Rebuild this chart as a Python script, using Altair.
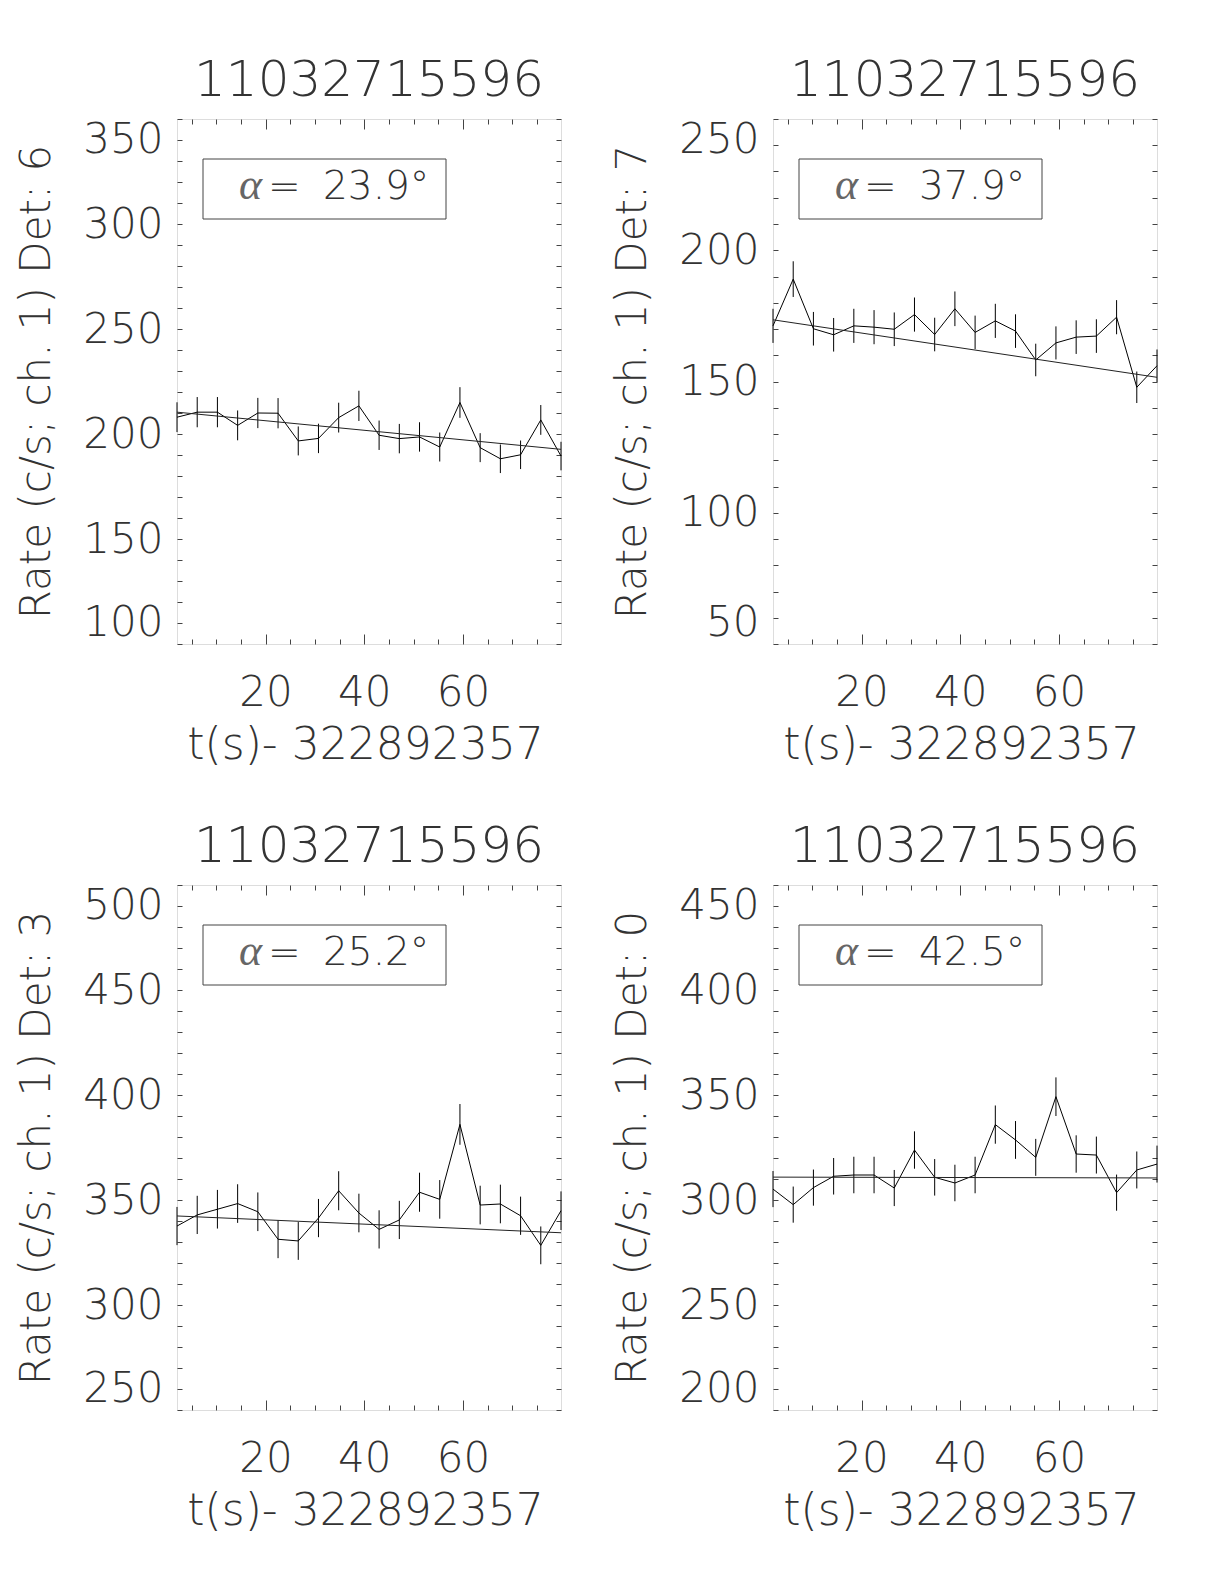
import altair as alt
import pandas as pd

# ---- data ----
t_start = 2.048
bin_s = 4.096
n_bins = 20
times = [round(t_start + bin_s * i, 3) for i in range(n_bins)]

titles = ["11032715596", "11032715596", "11032715596", "11032715596"]
dets = ["6", "7", "3", "0"]
alphas = ["23.9", "37.9", "25.2", "42.5"]
ydomains = [[100, 350], [50, 250], [250, 500], [200, 450]]

rate_det6 = [208.0, 210.4, 210.4, 204.1, 210.0, 209.9, 196.7, 197.9, 207.8, 213.4,
             199.4, 197.8, 198.6, 193.8, 215.0, 193.5, 188.2, 190.1, 206.7, 189.5]
err_det6 = [7.1, 7.2, 7.2, 7.1, 7.2, 7.2, 6.9, 7.0, 7.1, 7.2,
            7.0, 7.0, 7.0, 6.9, 7.3, 6.9, 6.8, 6.8, 7.1, 6.8]
fit_det6 = [210.4, 192.7]

rate_det7 = [171.2, 189.0, 170.1, 167.8, 171.2, 170.7, 169.9, 175.5, 167.9, 177.7,
             168.7, 173.1, 169.2, 158.2, 164.7, 166.9, 167.3, 174.5, 147.8, 156.0]
err_det7 = [6.5, 6.8, 6.4, 6.4, 6.5, 6.5, 6.4, 6.5, 6.4, 6.6,
            6.4, 6.5, 6.4, 6.2, 6.3, 6.4, 6.4, 6.5, 6.0, 6.2]
fit_det7 = [173.5, 151.6]

rate_det3 = [337.6, 342.9, 345.6, 348.3, 344.4, 331.3, 330.5, 341.4, 354.4, 343.8,
             336.0, 340.5, 353.7, 350.3, 386.0, 347.6, 348.1, 342.5, 328.4, 344.9]
err_det3 = [9.1, 9.1, 9.2, 9.2, 9.2, 9.0, 9.0, 9.1, 9.3, 9.2,
            9.1, 9.1, 9.3, 9.2, 9.7, 9.2, 9.2, 9.1, 9.0, 9.2]
fit_det3 = [342.4, 334.4]

rate_det0 = [305.2, 297.8, 305.9, 311.3, 311.9, 311.9, 305.7, 323.8, 310.8, 308.1,
             311.9, 335.9, 328.6, 320.3, 349.2, 321.9, 321.4, 303.5, 314.3, 317.1]
err_det0 = [8.6, 8.6, 8.6, 8.7, 8.7, 8.7, 8.6, 8.9, 8.7, 8.7,
            8.7, 9.1, 9.0, 8.8, 9.2, 8.9, 8.8, 8.6, 8.8, 8.8]
fit_det0 = [310.9, 310.5]

rates = [rate_det6, rate_det7, rate_det3, rate_det0]
errs = [err_det6, err_det7, err_det3, err_det0]
fits = [fit_det6, fit_det7, fit_det3, fit_det0]

x_label_vals = [20, 40, 60]
x_minor_vals = [5, 10, 15, 20, 25, 30, 35, 40, 45, 50, 55, 60, 65, 70, 75]
x_title = "t(s)- 322892357"

W, H = 384, 525
FONT = "DejaVu Sans"
TXT = "#333333"


def panel(k):
    lo_d, hi_d = ydomains[k]
    df = pd.DataFrame({
        "t": times,
        "rate": rates[k],
        "lo": [r - e for r, e in zip(rates[k], errs[k])],
        "hi": [r + e for r, e in zip(rates[k], errs[k])],
    })
    fit_df = pd.DataFrame({"t": [times[0], times[-1]], "rate": fits[k]})
    y_major = list(range(lo_d, hi_d + 1, 50))
    y_minor = list(range(lo_d, hi_d + 1, 10))
    xs = alt.Scale(domain=[times[0], times[-1]], nice=False, zero=False)
    ys = alt.Scale(domain=[lo_d, hi_d], nice=False, zero=False)

    # labelled axes (bottom / left), no ticks
    line = alt.Chart(df).mark_line(color="black", strokeWidth=1).encode(
        x=alt.X("t:Q", scale=xs, axis=alt.Axis(
            orient="bottom", values=x_label_vals, ticks=False, tickSize=0, domain=False,
            grid=False, labelFont=FONT, labelFontSize=42, labelColor=TXT,
            labelFontWeight=200, labelPadding=28,
            title=x_title, titleFont=FONT, titleFontSize=44, titleFontWeight=200,
            titleColor=TXT, titleX=188, titleY=101, titleBaseline="middle",
            titleAlign="center")),
        y=alt.Y("rate:Q", scale=ys, axis=alt.Axis(
            orient="left", values=y_major, ticks=False, tickSize=0, domain=False,
            grid=False, labelFont=FONT, labelFontSize=42, labelColor=TXT,
            labelFontWeight=200, labelPadding=14, labelFlush=True,
            title=f"Rate (c/s; ch. 1) Det: {dets[k]}", titleFont=FONT,
            titleFontSize=42, titleFontWeight=200, titleColor=TXT,
            titleX=-141, titleY=H / 2, titleAngle=270, titleBaseline="middle",
            titleAlign="center")),
    )

    # inward ticks on bottom edge and left edge
    errbar = alt.Chart(df).mark_rule(color="black", strokeWidth=1).encode(
        x=alt.X("t:Q", scale=xs, axis=alt.Axis(
            orient="top", offset=-H, values=x_minor_vals, labels=False, domain=False,
            grid=False, tickColor="#444444", tickWidth=1,
            tickSize={"condition": {"test": "datum.value % 20 === 0", "value": 10}, "value": 5},
            title=None)),
        y=alt.Y("lo:Q", scale=ys, axis=alt.Axis(
            orient="right", offset=-W, values=y_minor, labels=False, domain=False,
            grid=False, tickColor="#444444", tickWidth=1, tickSize=5, title=None)),
        y2="hi:Q",
    )

    # inward ticks on top edge and right edge
    fit = alt.Chart(fit_df).mark_line(color="#222222", strokeWidth=1).encode(
        x=alt.X("t:Q", scale=xs, axis=alt.Axis(
            orient="bottom", offset=-H, values=x_minor_vals, labels=False, domain=False,
            grid=False, tickColor="#444444", tickWidth=1,
            tickSize={"condition": {"test": "datum.value % 20 === 0", "value": 10}, "value": 5},
            title=None)),
        y=alt.Y("rate:Q", scale=ys, axis=alt.Axis(
            orient="left", offset=-W, values=y_minor, labels=False, domain=False,
            grid=False, tickColor="#444444", tickWidth=1, tickSize=5, title=None)),
    )

    box = alt.Chart(pd.DataFrame({"a": [alphas[k]]})).mark_rect(
        fill="white", fillOpacity=0, stroke="#444444", strokeWidth=1
    ).encode(x=alt.value(26), x2=alt.value(269), y=alt.value(40), y2=alt.value(100))

    alpha_sym = alt.Chart(pd.DataFrame({"a": ["α"]})).mark_text(
        font="Liberation Serif", fontSize=44, fontStyle="italic", color="#666666",
        align="left", baseline="alphabetic"
    ).encode(text="a:N", x=alt.value(62), y=alt.value(80))

    alpha_eq = alt.Chart(pd.DataFrame({"a": ["="]})).mark_text(
        font=FONT, fontSize=39, fontWeight=200, color=TXT,
        align="left", baseline="alphabetic"
    ).encode(text="a:N", x=alt.value(91), y=alt.value(80))

    alpha_val = alt.Chart(pd.DataFrame({"a": [f"{alphas[k]}°"]})).mark_text(
        font=FONT, fontSize=39, fontWeight=200, color=TXT,
        align="left", baseline="alphabetic"
    ).encode(text="a:N", x=alt.value(146), y=alt.value(80))

    return alt.layer(line, errbar, fit, box, alpha_sym, alpha_eq, alpha_val).resolve_axis(
        x="independent", y="independent"
    ).properties(
        width=W, height=H,
        title=alt.TitleParams(titles[k], font=FONT, fontSize=50, fontWeight=200,
                              color=TXT, anchor="middle", offset=12, frame="group"),
    )


chart = alt.concat(
    panel(0), panel(1), panel(2), panel(3), columns=2,
    spacing={"row": 241, "column": 212},
).properties(
    bounds="flush",
    padding={"left": 6, "top": 47, "right": 5, "bottom": 5},
).configure_view(
    stroke="#444444", strokeWidth=1
).configure(background="white")

chart.save("out.html", embed_options={"renderer": "svg", "actions": False})
